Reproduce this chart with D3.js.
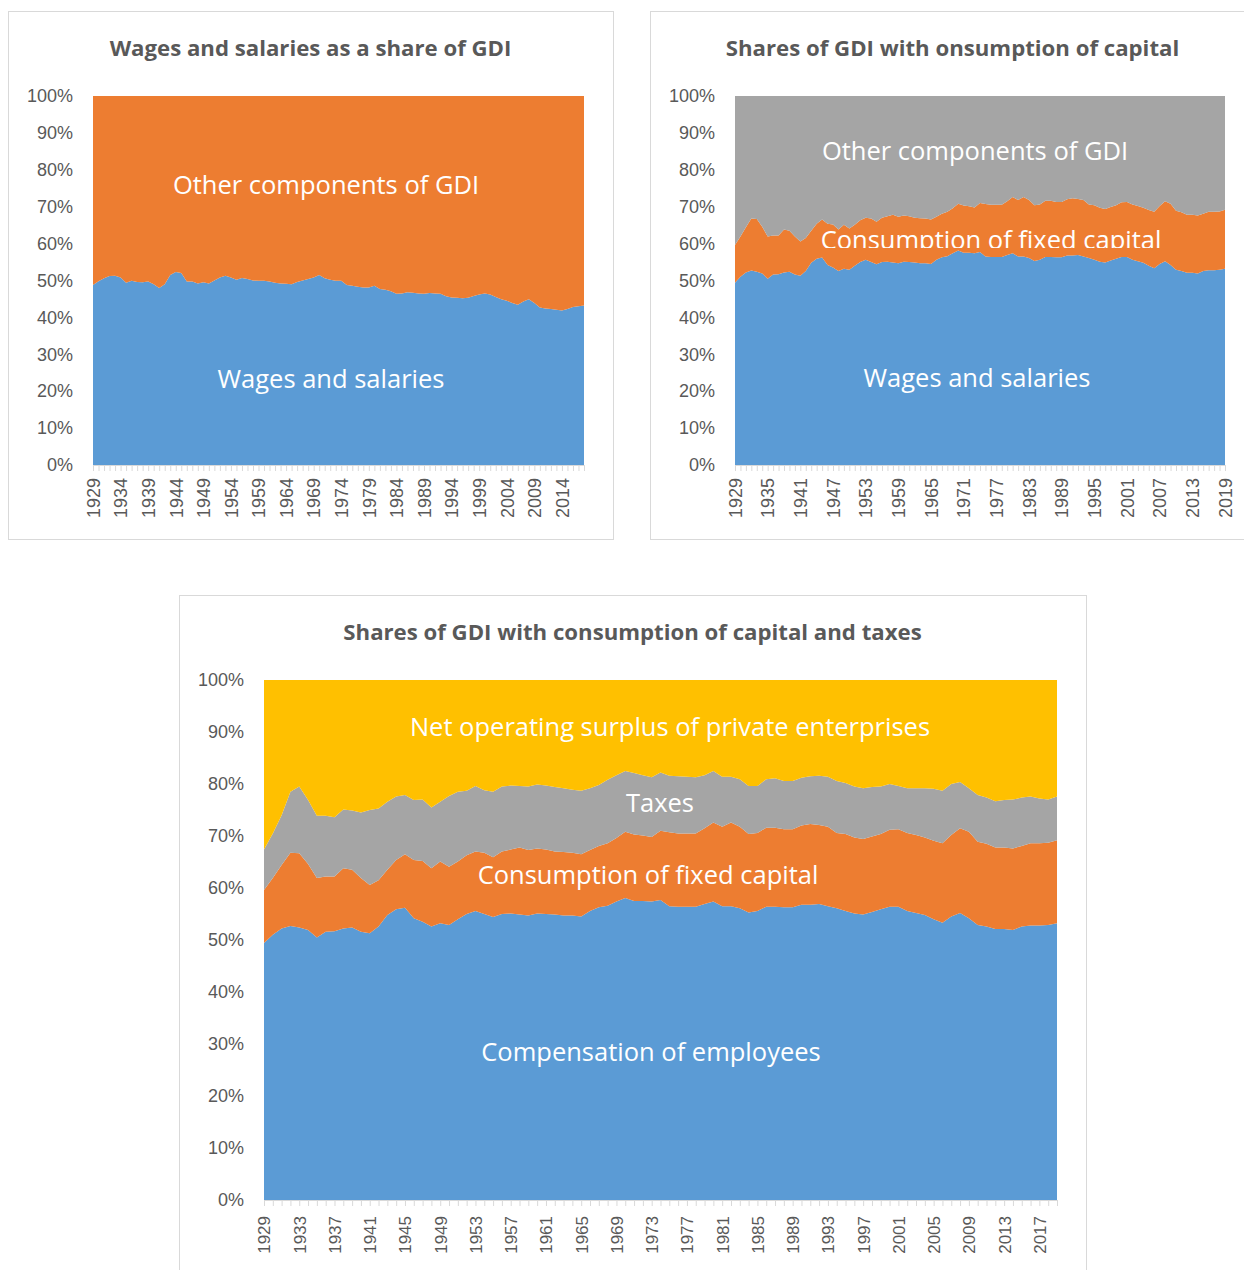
<!DOCTYPE html>
<html>
<head>
<meta charset="utf-8">
<script src="https://cdn.jsdelivr.net/npm/d3@7"></script>
<style>
  body { margin: 0; background: #fff; }
  svg { display: block; }
</style>
</head>
<body>
<svg id="chart" width="1244" height="1270"></svg>
<script>
// ---- Categories -------------------------------------------------------
const yearsWages = d3.range(1929, 2019);   // 1929–2018
const yearsGDI = d3.range(1929, 2020);     // 1929–2019
const percentTicks = [0, 10, 20, 30, 40, 50, 60, 70, 80, 90, 100];

// ---- Wages and salaries vs. the rest of GDI (percent of GDI) -----------
const wagesShare = [
  48.8, 49.8, 50.6, 51.2, 51.3, 50.8, 49.4, 49.9, 49.6, 49.5,
  49.7, 49.0, 48.0, 49.0, 51.5, 52.3, 52.0, 49.7, 49.7, 49.2,
  49.5, 49.2, 50.0, 50.8, 51.3, 50.8, 50.2, 50.7, 50.4, 50.0,
  49.9, 49.9, 49.7, 49.4, 49.2, 49.1, 49.0, 49.6, 50.0, 50.4,
  50.8, 51.5, 50.6, 50.2, 49.9, 49.9, 48.8, 48.6, 48.3, 48.1,
  48.1, 48.6, 47.7, 47.5, 47.1, 46.4, 46.5, 46.8, 46.7, 46.5,
  46.4, 46.6, 46.5, 46.4, 45.7, 45.4, 45.3, 45.2, 45.3, 45.8,
  46.2, 46.5, 46.2, 45.5, 44.9, 44.5, 43.9, 43.4, 44.3, 44.9,
  43.9, 42.7, 42.4, 42.3, 42.1, 41.9, 42.3, 42.8, 43.0, 43.2
];
const otherShare = [
  51.2, 50.2, 49.4, 48.8, 48.7, 49.2, 50.6, 50.1, 50.4, 50.5,
  50.3, 51.0, 52.0, 51.0, 48.5, 47.7, 48.0, 50.3, 50.3, 50.8,
  50.5, 50.8, 50.0, 49.2, 48.7, 49.2, 49.8, 49.3, 49.6, 50.0,
  50.1, 50.1, 50.3, 50.6, 50.8, 50.9, 51.0, 50.4, 50.0, 49.6,
  49.2, 48.5, 49.4, 49.8, 50.1, 50.1, 51.2, 51.4, 51.7, 51.9,
  51.9, 51.4, 52.3, 52.5, 52.9, 53.6, 53.5, 53.2, 53.3, 53.5,
  53.6, 53.4, 53.5, 53.6, 54.3, 54.6, 54.7, 54.8, 54.7, 54.2,
  53.8, 53.5, 53.8, 54.5, 55.1, 55.5, 56.1, 56.6, 55.7, 55.1,
  56.1, 57.3, 57.6, 57.7, 57.9, 58.1, 57.7, 57.2, 57.0, 56.8
];

// ---- Components of GDI (percent of GDI) --------------------------------
const compensation = [
  49.4, 51.0, 52.2, 52.7, 52.4, 51.9, 50.5, 51.6, 51.7, 52.2,
  52.4, 51.6, 51.3, 52.6, 54.8, 55.9, 56.2, 54.2, 53.5, 52.6,
  53.2, 52.9, 54.0, 55.0, 55.6, 55.0, 54.4, 55.0, 55.1, 54.9,
  54.7, 55.1, 55.0, 54.9, 54.7, 54.7, 54.5, 55.6, 56.3, 56.6,
  57.4, 58.1, 57.5, 57.5, 57.4, 57.7, 56.5, 56.4, 56.4, 56.4,
  56.9, 57.4, 56.5, 56.5, 56.1, 55.3, 55.6, 56.4, 56.4, 56.3,
  56.3, 56.8, 56.8, 56.9, 56.5, 56.1, 55.6, 55.1, 54.9, 55.4,
  55.9, 56.4, 56.4, 55.6, 55.2, 54.8, 54.0, 53.3, 54.5, 55.2,
  54.2, 52.9, 52.6, 52.1, 52.1, 51.9, 52.6, 52.8, 52.8, 52.9,
  53.2
];
const fixedCapital = [
  10.2, 10.9, 12.2, 14.1, 14.3, 12.7, 11.4, 10.6, 10.5, 11.6,
  11.1, 10.3,  9.3,  8.9,  8.7,  9.5, 10.3, 11.2, 11.7, 11.2,
  11.9, 11.2, 11.1, 11.3, 11.4, 11.8, 11.5, 12.0, 12.3, 12.9,
  12.6, 12.5, 12.4, 12.1, 12.2, 12.1, 12.0, 11.7, 11.8, 12.0,
  12.2, 12.7, 12.8, 12.6, 12.4, 13.3, 14.2, 14.1, 14.1, 14.1,
  14.6, 15.2, 15.3, 16.1, 15.7, 15.1, 15.0, 15.2, 15.2, 15.0,
  15.0, 15.2, 15.5, 15.2, 15.3, 14.5, 14.8, 14.6, 14.5, 14.5,
  14.5, 14.8, 14.9, 15.0, 15.0, 14.9, 15.1, 15.3, 15.7, 16.3,
  16.6, 16.0, 15.9, 15.7, 15.7, 15.7, 15.5, 15.8, 15.8, 15.8,
  16.0
];
const taxes = [
   7.8,  8.6,  9.6, 11.7, 12.8, 12.3, 12.0, 11.7, 11.4, 11.3,
  11.4, 12.6, 14.4, 13.8, 13.1, 12.2, 11.4, 11.5, 11.8, 11.7,
  11.5, 13.6, 13.4, 12.4, 12.6, 12.0, 12.6, 12.5, 12.3, 11.8,
  12.2, 12.3, 12.3, 12.4, 12.3, 12.1, 12.2, 11.9, 11.7, 12.2,
  12.1, 11.7, 11.8, 11.6, 11.5, 11.2, 10.9, 11.0, 10.9, 10.8,
  10.2,  9.9,  9.6,  8.8,  9.1,  9.2,  9.0,  9.3,  9.5,  9.3,
   9.3,  9.2,  9.2,  9.5,  9.6, 10.0,  9.8,  9.8,  9.8,  9.5,
   9.1,  8.8,  8.3,  8.6,  9.0,  9.5, 10.0, 10.1,  9.8,  8.9,
   8.4,  9.0,  8.9,  8.9,  9.1,  9.4,  9.3,  9.0,  8.6,  8.3,
   8.4
];
const netSurplus = [
  32.6, 29.5, 26.0, 21.5, 20.5, 23.1, 26.1, 26.1, 26.4, 24.9,
  25.1, 25.5, 25.0, 24.7, 23.4, 22.4, 22.1, 23.1, 23.0, 24.5,
  23.4, 22.3, 21.5, 21.3, 20.4, 21.2, 21.5, 20.5, 20.3, 20.4,
  20.5, 20.1, 20.3, 20.6, 20.8, 21.1, 21.3, 20.8, 20.2, 19.2,
  18.3, 17.5, 17.9, 18.3, 18.7, 17.8, 18.4, 18.5, 18.6, 18.7,
  18.3, 17.5, 18.6, 18.6, 19.1, 20.4, 20.4, 19.1, 18.9, 19.4,
  19.4, 18.8, 18.5, 18.4, 18.6, 19.4, 19.8, 20.5, 20.8, 20.6,
  20.5, 20.0, 20.4, 20.8, 20.8, 20.8, 20.9, 21.3, 20.0, 19.6,
  20.8, 22.1, 22.6, 23.3, 23.1, 23.0, 22.6, 22.4, 22.8, 23.0,
  22.4
];
// everything other than compensation and capital consumption
const otherComponents = taxes.map((v, i) => v + netSurplus[i]);

// ---- Drawing -----------------------------------------------------------
const COLORS = { blue: "#5B9BD5", orange: "#ED7D31", gray: "#A5A5A5", gold: "#FFC000" };
const TEXT_GRAY = "#595959";
const LINE_GRAY = "#D9D9D9";
const LABEL_FONT = "'Open Sans', sans-serif";
const AXIS_FONT = "'Liberation Sans', Arial, sans-serif";

const svg = d3.select("#chart");
const defs = svg.append("defs");

function drawChart(cfg) {
  const g = svg.append("g");
  const { l, r, t, b } = cfg.plot;

  // chart frame
  g.append("rect")
    .attr("x", cfg.frame.x + 0.5).attr("y", cfg.frame.y + 0.5)
    .attr("width", cfg.frame.w).attr("height", cfg.frame.h)
    .attr("fill", "#fff").attr("stroke", LINE_GRAY).attr("stroke-width", 1);

  // title
  g.append("text")
    .attr("x", cfg.frame.x + cfg.frame.w / 2).attr("y", cfg.titleY)
    .attr("text-anchor", "middle")
    .attr("fill", TEXT_GRAY)
    .style("font-family", LABEL_FONT).style("font-weight", 700)
    .style("font-size", cfg.titleSize + "px")
    .text(cfg.title);

  const x = d3.scalePoint().domain(cfg.years).range([l, r]);
  const y = d3.scaleLinear().domain([0, 100]).range([b, t]);

  const rows = cfg.years.map((yr, i) => {
    const row = { year: yr };
    cfg.series.forEach(s => { row[s.key] = s.values[i]; });
    return row;
  });
  const layers = d3.stack().keys(cfg.series.map(s => s.key))(rows);
  const area = d3.area()
    .x(d => x(d.data.year))
    .y0(d => y(d[0]))
    .y1(d => y(d[1]));

  g.append("g").selectAll("path")
    .data(layers)
    .join("path")
    .attr("fill", (d, i) => cfg.series[i].color)
    .attr("d", area);

  // percent axis
  g.append("g")
    .attr("transform", `translate(${l},0)`)
    .call(d3.axisLeft(y).tickValues(percentTicks).tickFormat(d => d + "%").tickSize(0).tickPadding(20))
    .call(a => a.select(".domain").remove())
    .call(a => a.selectAll("text")
      .attr("fill", TEXT_GRAY)
      .style("font-family", AXIS_FONT)
      .style("font-size", cfg.axisSize + "px"));

  // year axis
  g.append("g")
    .attr("transform", `translate(0,${b})`)
    .call(d3.axisBottom(x).tickSize(6).tickSizeOuter(0)
      .tickFormat((d, i) => (i % cfg.every === 0 ? d : "")))
    .call(a => a.select(".domain").attr("stroke", LINE_GRAY))
    .call(a => a.selectAll(".tick line").attr("stroke", LINE_GRAY))
    .call(a => a.selectAll(".tick text")
      .attr("transform", "rotate(-90)")
      .attr("x", -cfg.yearGap).attr("y", 0).attr("dy", "0.35em")
      .attr("text-anchor", "end")
      .attr("fill", TEXT_GRAY)
      .style("font-family", AXIS_FONT)
      .style("font-size", cfg.yearSize + "px"));

  // in-area labels
  cfg.labels.forEach((lab, k) => {
    const txt = g.append("text")
      .attr("x", lab.x).attr("y", lab.y).attr("dy", "0.35em")
      .attr("text-anchor", "middle")
      .attr("fill", "#fff")
      .style("font-family", LABEL_FONT)
      .style("font-size", cfg.labelSize + "px")
      .text(lab.text);
    if (lab.clipBelow != null) {
      const id = "clip-" + cfg.id + "-" + k;
      defs.append("clipPath").attr("id", id)
        .append("rect").attr("x", 0).attr("y", 0).attr("width", 1244).attr("height", lab.clipBelow);
      txt.attr("clip-path", `url(#${id})`);
    }
  });
}

drawChart({
  id: "wages",
  frame: { x: 8, y: 11, w: 605, h: 528 },
  plot: { l: 93, r: 584, t: 96, b: 465 },
  title: "Wages and salaries as a share of GDI",
  titleY: 56, titleSize: 22.2,
  years: yearsWages, every: 5,
  axisSize: 18, yearSize: 18, yearGap: 13,
  labelSize: 25.5,
  series: [
    { key: "wages", values: wagesShare, color: COLORS.blue },
    { key: "other", values: otherShare, color: COLORS.orange }
  ],
  labels: [
    { text: "Other components of GDI", x: 326, y: 185 },
    { text: "Wages and salaries", x: 331, y: 379 }
  ]
});

drawChart({
  id: "capital",
  frame: { x: 650, y: 11, w: 605, h: 528 },
  plot: { l: 735, r: 1225, t: 96, b: 465 },
  title: "Shares of GDI with onsumption of capital",
  titleY: 56, titleSize: 22.2,
  years: yearsGDI, every: 6,
  axisSize: 18, yearSize: 18, yearGap: 13,
  labelSize: 25.5,
  series: [
    { key: "compensation", values: compensation, color: COLORS.blue },
    { key: "capital", values: fixedCapital, color: COLORS.orange },
    { key: "other", values: otherComponents, color: COLORS.gray }
  ],
  labels: [
    { text: "Other components of GDI", x: 975, y: 151 },
    { text: "Consumption of fixed capital", x: 991, y: 240, clipBelow: 248 },
    { text: "Wages and salaries", x: 977, y: 378 }
  ]
});

drawChart({
  id: "taxes",
  frame: { x: 179, y: 595, w: 907, h: 700 },
  plot: { l: 264, r: 1057, t: 680, b: 1200 },
  title: "Shares of GDI with consumption of capital and taxes",
  titleY: 640, titleSize: 22.2,
  years: yearsGDI, every: 4,
  axisSize: 18, yearSize: 17, yearGap: 16,
  labelSize: 25.5,
  series: [
    { key: "compensation", values: compensation, color: COLORS.blue },
    { key: "capital", values: fixedCapital, color: COLORS.orange },
    { key: "taxes", values: taxes, color: COLORS.gray },
    { key: "surplus", values: netSurplus, color: COLORS.gold }
  ],
  labels: [
    { text: "Net operating surplus of private enterprises", x: 670, y: 727 },
    { text: "Taxes", x: 660, y: 803 },
    { text: "Consumption of fixed capital", x: 648, y: 875 },
    { text: "Compensation of employees", x: 651, y: 1052 }
  ]
});
</script>
</body>
</html>
